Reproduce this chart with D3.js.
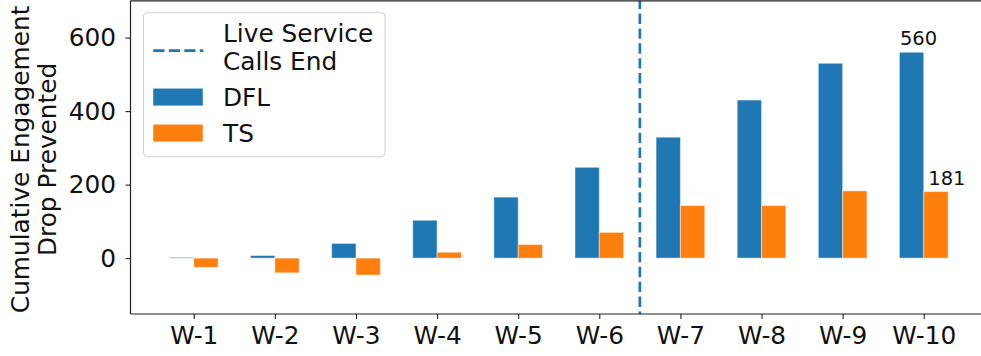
<!DOCTYPE html>
<html><head><meta charset="utf-8">
<script src="https://d3js.org/d3.v7.min.js"></script>
<style>body{margin:0;background:#fff}svg{display:block;font-family:"DejaVu Sans",sans-serif}</style>
</head><body><svg id="c" width="981" height="356"></svg>
<script>
const categories = ["W-1","W-2","W-3","W-4","W-5","W-6","W-7","W-8","W-9","W-10"];
const dflValues = [2, 7, 40, 103, 166, 247, 329, 430, 530, 560];
const tsValues = [-25, -40, -46, 16, 37, 70, 143, 143, 183, 181];
const yTicks = [0, 200, 400, 600];
const seriesNames = ["DFL", "TS"];
const colors = ["#1f77b4", "#ff7f0e"];
const vlineAt = 5.5;
const annotations = [{series:0, idx:9, text:"560"}, {series:1, idx:9, text:"181"}];

const FS = 24.8;
const svg = d3.select("#c");
const L = 130.5, R = 987, T = 0.8, B = 314;
const x = d3.scaleLinear().domain([-0.78, 9.78]).range([L, R]);
const y = d3.scaleLinear().domain([-152, 700]).range([B, T]);
const bw = 0.3;

const data = [dflValues, tsValues];
data.forEach((vals, s) => {
  svg.append("g").selectAll("rect").data(vals).join("rect")
    .attr("x", (d,i) => x(s === 0 ? i - bw : i))
    .attr("width", x(bw) - x(0))
    .attr("y", d => y(Math.max(0, d)))
    .attr("height", d => Math.abs(y(d) - y(0)))
    .attr("fill", colors[s])
    .attr("stroke", "rgba(255,255,255,0.45)")
    .attr("stroke-width", 1);
});

// vertical dashed line
svg.append("line")
  .attr("x1", x(vlineAt)).attr("x2", x(vlineAt))
  .attr("y1", T).attr("y2", B)
  .attr("stroke", "#1f77b4").attr("stroke-width", 2.7)
  .attr("stroke-dasharray", "10.4,4.5").attr("stroke-dashoffset", 2.2);

// annotations
annotations.forEach(a => {
  const vals = data[a.series];
  const left = a.series === 0 ? a.idx - bw : a.idx;
  svg.append("text")
    .attr("x", x(left) + (a.series === 0 ? 0.5 : 4.5))
    .attr("y", y(vals[a.idx]) - 7)
    .attr("font-size", 19.5).attr("fill", "#111")
    .text(a.text);
});

// axes
const xAxis = d3.axisBottom(x).tickValues(d3.range(categories.length))
  .tickFormat(i => categories[i]).tickSize(5).tickPadding(7.5);
const gx = svg.append("g").attr("transform", `translate(0,${B})`).call(xAxis);
gx.select(".domain").remove();
gx.selectAll("text").attr("font-size", FS).attr("fill", "#111").attr("font-family", "DejaVu Sans");
gx.selectAll("line").attr("stroke", "#222").attr("stroke-width", 1.1);

const yAxis = d3.axisLeft(y).tickValues(yTicks).tickSize(5).tickPadding(9.5);
const gy = svg.append("g").attr("transform", `translate(${L},0)`).call(yAxis);
gy.select(".domain").remove();
gy.selectAll("text").attr("font-size", FS).attr("fill", "#111").attr("font-family", "DejaVu Sans");
gy.selectAll("line").attr("stroke", "#222").attr("stroke-width", 1.1);

// spines
svg.append("line").attr("x1", L).attr("x2", L).attr("y1", T).attr("y2", B).attr("stroke", "#222").attr("stroke-width", 1.2);
svg.append("line").attr("x1", L).attr("x2", R).attr("y1", B).attr("y2", B).attr("stroke", "#222").attr("stroke-width", 1.2);
svg.append("line").attr("x1", L).attr("x2", R).attr("y1", T).attr("y2", T).attr("stroke", "#222").attr("stroke-width", 1.2);

// y label
const yl = svg.append("text").attr("transform", `translate(34,${(T+B)/2 + 2}) rotate(-90)`)
  .attr("text-anchor", "middle").attr("font-size", FS).attr("fill", "#111");
yl.append("tspan").attr("x", 0).attr("y", -5).text("Cumulative Engagement");
yl.append("tspan").attr("x", 0).attr("y", 22).text("Drop Prevented");

// legend
const lg = svg.append("g");
lg.append("rect").attr("x", 143.5).attr("y", 12.7).attr("width", 241.5).attr("height", 144)
  .attr("rx", 4).attr("fill", "rgba(255,255,255,0.85)").attr("stroke", "#d0d0d0").attr("stroke-width", 1);
lg.append("line").attr("x1", 153.3).attr("x2", 203.3).attr("y1", 50.7).attr("y2", 50.7)
  .attr("stroke", "#1f77b4").attr("stroke-width", 2.7).attr("stroke-dasharray", "11.2,4.3");
lg.append("text").attr("x", 223).attr("y", 42).attr("font-size", FS).attr("fill", "#111").text("Live Service");
lg.append("text").attr("x", 223).attr("y", 69.5).attr("font-size", FS).attr("fill", "#111").text("Calls End");
seriesNames.forEach((n, i) => {
  const py = i === 0 ? 88.3 : 124.3;
  lg.append("rect").attr("x", 153).attr("y", py).attr("width", 50).attr("height", 17.5)
    .attr("fill", colors[i]).attr("stroke", "rgba(255,255,255,0.45)");
  lg.append("text").attr("x", 223).attr("y", py + 17.5).attr("font-size", FS).attr("fill", "#111").text(n);
});
</script></body></html>
